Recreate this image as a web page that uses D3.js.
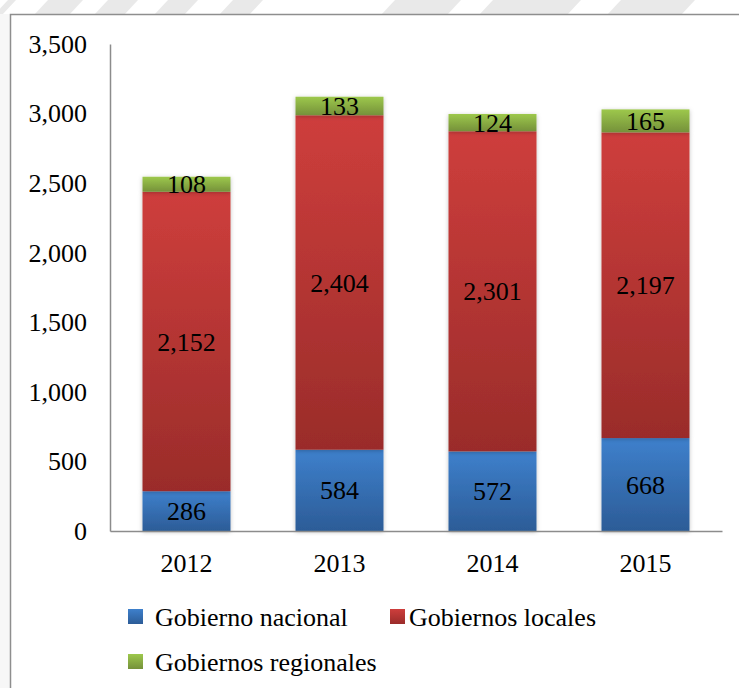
<!DOCTYPE html>
<html>
<head>
<meta charset="utf-8">
<script src="https://d3js.org/d3.v7.min.js"></script>
<style>
  body { margin: 0; background: #fff; }
  svg text { font-family: "Liberation Serif", "Times New Roman", serif; font-size: 26px; fill: #000; }
</style>
</head>
<body>
<svg width="739" height="688"></svg>
<script>
var years = ["2012", "2013", "2014", "2015"];
var nacional = [286, 584, 572, 668];
var locales = [2152, 2404, 2301, 2197];
var regionales = [108, 133, 124, 165];
var yTicks = [0, 500, 1000, 1500, 2000, 2500, 3000, 3500];
var seriesNames = ["Gobierno nacional", "Gobiernos locales", "Gobiernos regionales"];

var svg = d3.select("svg");
var fmt = d3.format(",");

// faint watermark above the frame
var wm = svg.append("g").attr("fill", "#e9e9e9");
[[0, 8], [40, 75], [100, 130], [160, 190], [225, 255], [387, 453], [485, 573], [613, 687]].forEach(function(p) {
  wm.append("polygon")
    .attr("points", [[p[0] + 8, 0], [p[1] + 8, 0], [p[1] - 6, 15], [p[0] - 6, 15]].join(" "));
});
svg.append("rect").attr("x", 0).attr("y", 14).attr("width", 10).attr("height", 674).attr("fill", "#f7f7f7");

// chart frame
svg.append("path")
  .attr("d", "M10.5,688V14.5H739")
  .attr("fill", "none")
  .attr("stroke", "#8e8e8e")
  .attr("stroke-width", 1.5);

var defs = svg.append("defs");
var grads = [["gNac", "#3e80cc", "#2c5c97"], ["gLoc", "#ce3e3c", "#9a2c2a"], ["gReg", "#9dc84c", "#75913a"]];
grads.forEach(function(g) {
  var lg = defs.append("linearGradient").attr("id", g[0]).attr("x1", 0).attr("y1", 0).attr("x2", 0).attr("y2", 1);
  lg.append("stop").attr("offset", "0%").attr("stop-color", g[1]);
  lg.append("stop").attr("offset", "100%").attr("stop-color", g[2]);
});
defs.append("filter").attr("id", "shadow").attr("x", "-20%").attr("y", "-5%").attr("width", "140%").attr("height", "110%")
  .append("feDropShadow").attr("dx", 0).attr("dy", 1).attr("stdDeviation", 2)
  .attr("flood-color", "#000").attr("flood-opacity", 0.25);

var x = d3.scaleBand()
  .domain(years)
  .range([110, 722])
  .paddingInner(0.425)
  .paddingOuter(0.2125);

var y = d3.scaleLinear()
  .domain([0, 3500])
  .range([531, 44]);

var data = years.map(function(yr, i) {
  return { year: yr, nacional: nacional[i], locales: locales[i], regionales: regionales[i] };
});
var keys = ["nacional", "locales", "regionales"];
var fills = ["url(#gNac)", "url(#gLoc)", "url(#gReg)"];
var stacked = d3.stack().keys(keys)(data);

var bars = svg.append("g");
stacked.forEach(function(layer, li) {
  bars.append("g")
    .attr("fill", fills[li])
    .attr("filter", "url(#shadow)")
    .selectAll("rect")
    .data(layer)
    .enter().append("rect")
      .attr("x", function(d) { return x(d.data.year); })
      .attr("y", function(d) { return y(d[1]); })
      .attr("width", x.bandwidth())
      .attr("height", function(d) { return y(d[0]) - y(d[1]); });
});

// value labels
stacked.forEach(function(layer) {
  svg.append("g")
    .selectAll("text")
    .data(layer)
    .enter().append("text")
      .attr("x", function(d) { return x(d.data.year) + x.bandwidth() / 2; })
      .attr("y", function(d) { return (y(d[0]) + y(d[1])) / 2; })
      .attr("dy", "0.35em")
      .attr("text-anchor", "middle")
      .text(function(d) { return fmt(d[1] - d[0]); });
});

// axes
var yAxis = svg.append("g")
  .attr("transform", "translate(110,0)")
  .call(d3.axisLeft(y).tickValues(yTicks).tickSize(0).tickPadding(23).tickFormat(fmt));
var xAxis = svg.append("g")
  .attr("transform", "translate(0,531)")
  .call(d3.axisBottom(x).tickSize(0).tickPadding(23));
[yAxis, xAxis].forEach(function(a) {
  a.select(".domain").attr("stroke", "#8c8c8c").attr("stroke-width", 1.5);
  a.selectAll("text").style("font-size", "26px").style("font-family", "'Liberation Serif', 'Times New Roman', serif").attr("fill", "#000");
});

// legend
var legendPos = [[128, 617], [390, 617], [128, 662]];
var legend = svg.append("g");
seriesNames.forEach(function(name, i) {
  var p = legendPos[i];
  legend.append("rect")
    .attr("x", p[0]).attr("y", p[1] - 8)
    .attr("width", 15).attr("height", 15)
    .attr("fill", fills[i]);
  legend.append("text")
    .attr("x", p[0] + (i === 1 ? 19 : 27))
    .attr("y", p[1])
    .attr("dy", "0.35em")
    .text(name);
});
</script>
</body>
</html>
